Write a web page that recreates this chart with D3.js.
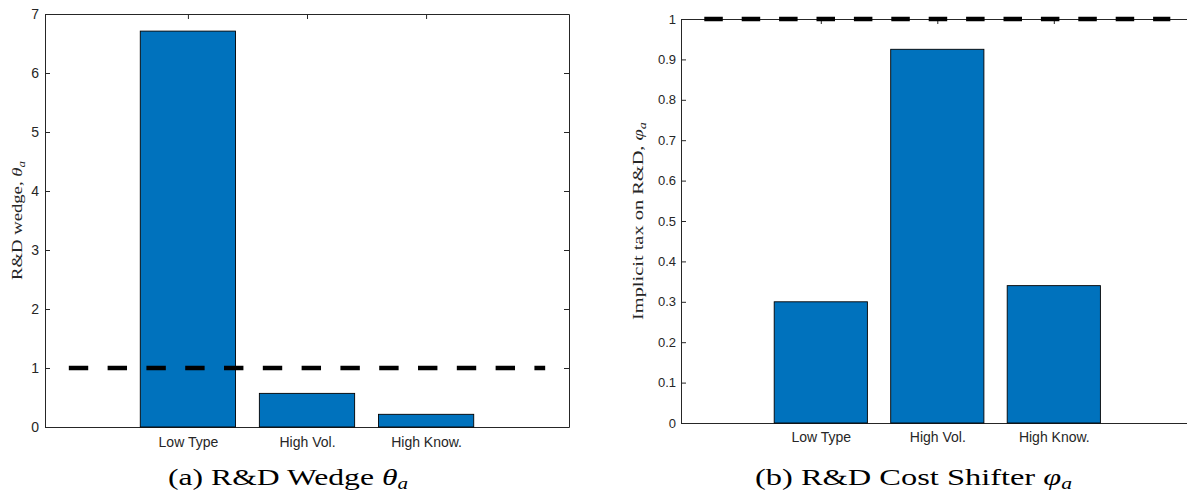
<!DOCTYPE html>
<html>
<head>
<meta charset="utf-8">
<script src="https://cdn.jsdelivr.net/npm/d3@7"></script>
<style>
  body { margin: 0; background: #fff; }
  svg { display: block; overflow: hidden; }
  .tick text { fill: #262626; font-family: "Liberation Sans", Arial, sans-serif; }
  .domain, .tick line { stroke: #262626; }
</style>
</head>
<body>
<svg id="chart" width="1187" height="494"></svg>
<script>
// categories share the same x positions in both panels
const categories = ["Low Type", "High Vol.", "High Know."];
const categoryPos = [1, 2, 3];
const xLimits = [-0.2, 4.2];

// panel (a): R&D wedge
const wedgeValues = [6.71, 0.57, 0.215];
const wedgeTicks = [0, 1, 2, 3, 4, 5, 6, 7];
const wedgeLimits = [0, 7];

// panel (b): R&D cost shifter
const shifterValues = [0.30, 0.925, 0.34];
const shifterTicks = [0, 0.1, 0.2, 0.3, 0.4, 0.5, 0.6, 0.7, 0.8, 0.9, 1];
const shifterLimits = [0, 1];

// dashed reference line at 1, spanning x = 0..4
const refLevel = 1;
const refSpan = [0, 4];

const svg = d3.select("#chart");

function drawPanel(cfg) {
  const x = d3.scaleLinear().domain(xLimits).range([cfg.left, cfg.right]);
  const y = d3.scaleLinear().domain(cfg.limits).range([cfg.bottom, cfg.top]);
  const g = svg.append("g");

  // axes box with inward ticks (drawn under the bars)
  g.append("g")
    .attr("transform", `translate(${cfg.left},0)`)
    .call(d3.axisLeft(y).tickValues(cfg.ticks).tickSizeInner(-5).tickSizeOuter(0)
      .tickPadding(cfg.yPad).tickFormat(d3.format("~g")))
    .call(a => a.selectAll("text").style("font-size", cfg.yFont + "px"));
  g.append("g")
    .attr("transform", `translate(${cfg.right},0)`)
    .call(d3.axisRight(y).tickValues(cfg.ticks).tickSizeInner(-5).tickSizeOuter(0).tickFormat(""));
  g.append("g")
    .attr("transform", `translate(0,${cfg.top})`)
    .call(d3.axisTop(x).tickValues(categoryPos).tickSizeInner(-5).tickSizeOuter(0).tickFormat(""));
  g.append("g")
    .attr("transform", `translate(0,${cfg.bottom})`)
    .call(d3.axisBottom(x).tickValues(categoryPos).tickSizeInner(-5).tickSizeOuter(0)
      .tickPadding(cfg.xPad).tickFormat((d, i) => categories[i]))
    .call(a => a.selectAll("text").style("font-size", "14px"));

  // bars
  g.append("g")
    .selectAll("rect")
    .data(cfg.values)
    .enter()
    .append("rect")
    .attr("x", (d, i) => x(categoryPos[i] - 0.4))
    .attr("width", x(0.8) - x(0))
    .attr("y", d => y(d))
    .attr("height", d => y(0) - y(d))
    .attr("fill", "#0072BD")
    .attr("stroke", "#000")
    .attr("stroke-width", 0.9);

  // reference line
  g.append("line")
    .attr("x1", x(refSpan[0]))
    .attr("x2", x(refSpan[1]))
    .attr("y1", y(refLevel))
    .attr("y2", y(refLevel))
    .attr("stroke", "#000")
    .attr("stroke-width", 4.3)
    .attr("stroke-dasharray", cfg.dash);

  // y label (rotated)
  const yl = g.append("text")
    .attr("transform", `translate(${cfg.yLabelX},${(cfg.top + cfg.bottom) / 2}) rotate(-90)`)
    .attr("text-anchor", "middle")
    .attr("font-family", "'Liberation Serif', 'Times New Roman', serif")
    .attr("font-size", cfg.yLabelFont)
    .attr("fill", "#262626")
    .attr("textLength", cfg.yLabelLen)
    .attr("lengthAdjust", "spacingAndGlyphs");
  yl.append("tspan").text(cfg.yLabel);
  yl.append("tspan").attr("font-style", "italic").text(cfg.sym);
  yl.append("tspan").attr("font-style", "italic").attr("font-size", cfg.yLabelFont * 0.7)
    .attr("dy", 3).text("a");

  // caption
  const cap = svg.append("text")
    .attr("x", cfg.capX)
    .attr("y", 485)
    .attr("font-family", "'Liberation Serif', 'Times New Roman', serif")
    .attr("font-size", 24)
    .attr("fill", "#000")
    .attr("textLength", cfg.capLen)
    .attr("lengthAdjust", "spacingAndGlyphs");
  cap.append("tspan").text(cfg.caption);
  cap.append("tspan").attr("font-style", "italic").text(cfg.sym);
  cap.append("tspan").attr("font-style", "italic").attr("font-size", 16)
    .attr("dy", 4).text("a");
}

drawPanel({
  left: 45, right: 569, top: 14, bottom: 427,
  limits: wedgeLimits, ticks: wedgeTicks, values: wedgeValues,
  yFont: 14, yPad: 6, xPad: 10, dash: "19.4,19.4",
  yLabel: "R&D wedge, ", sym: "θ", yLabelX: 21.5, yLabelFont: 14, yLabelLen: 119,
  caption: "(a) R&D Wedge ", capX: 168, capLen: 240
});

drawPanel({
  left: 681, right: 1193.6, top: 19, bottom: 423,
  limits: shifterLimits, ticks: shifterTicks, values: shifterValues,
  yFont: 13, yPad: 5, xPad: 9, dash: "18.5,18.9",
  yLabel: "Implicit tax on R&D, ", sym: "φ", yLabelX: 642.5, yLabelFont: 14, yLabelLen: 198,
  caption: "(b) R&D Cost Shifter ", capX: 755, capLen: 317
});
</script>
</body>
</html>
